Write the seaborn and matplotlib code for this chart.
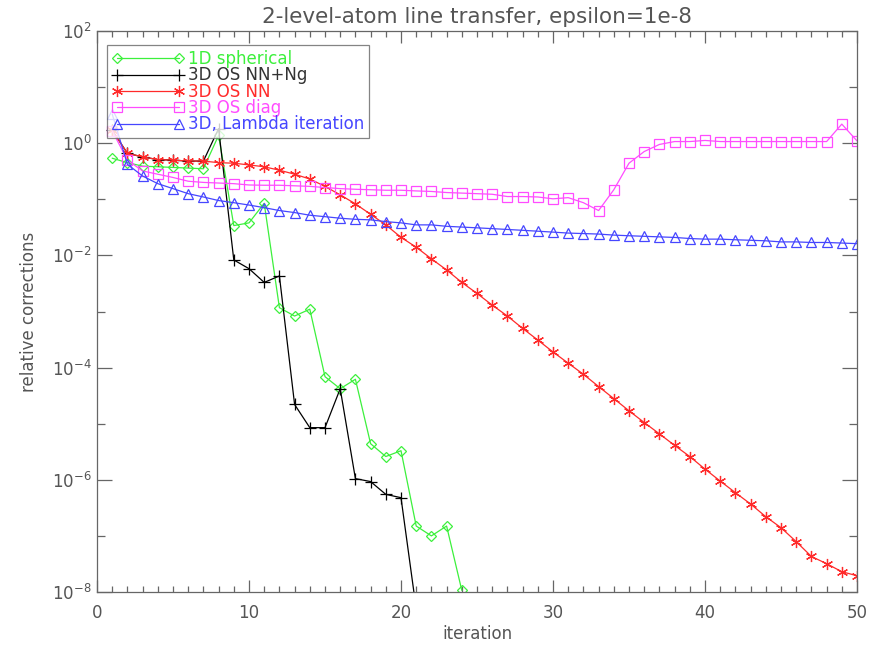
import numpy as np
import pandas as pd
import matplotlib
matplotlib.use("Agg")
import matplotlib.pyplot as plt
import seaborn as sns
from matplotlib.ticker import FixedLocator, FixedFormatter, MultipleLocator, NullFormatter

# values (relative corrections per iteration)
spherical_1d = [0.54, 0.45, 0.39, 0.38, 0.37, 0.36, 0.35, 1.38, 0.034, 0.038,
                0.085, 1.17e-3, 8.3e-4, 1.1e-3, 6.9e-5, 4.2e-5, 6.2e-5, 4.4e-6, 2.6e-6, 3.3e-6,
                1.5e-7, 1.0e-7, 1.5e-7, 1.07e-8]

os_nn_ng = [1.70, 0.66, 0.57, 0.51, 0.50, 0.48, 0.48, 1.82, 8.3e-3, 5.8e-3,
            3.3e-3, 4.3e-3, 2.2e-5, 8.5e-6, 8.5e-6, 4.2e-5, 1.05e-6, 9.3e-7, 5.5e-7, 4.8e-7,
            5e-9]

os_nn = [1.70, 0.66, 0.57, 0.51, 0.50, 0.48, 0.48, 0.45, 0.44, 0.41,
         0.38, 0.33, 0.28, 0.23, 0.17, 0.12, 0.083, 0.054, 0.035, 0.021,
         0.014, 8.7e-3, 5.5e-3, 3.3e-3, 2.1e-3, 1.3e-3, 8.3e-4, 5.0e-4, 3.1e-4, 1.9e-4,
         1.2e-4, 7.6e-5, 4.6e-5, 2.8e-5, 1.7e-5, 1.05e-5, 6.6e-6, 4.1e-6, 2.6e-6, 1.55e-6,
         9.5e-7, 5.9e-7, 3.7e-7, 2.2e-7, 1.4e-7, 7.9e-8, 4.3e-8, 3.2e-8, 2.3e-8, 1.95e-8]

os_diag = [1.66, 0.50, 0.32, 0.28, 0.245, 0.21, 0.20, 0.195, 0.19, 0.18,
           0.178, 0.178, 0.174, 0.17, 0.162, 0.155, 0.151, 0.148, 0.145, 0.145,
           0.141, 0.138, 0.132, 0.129, 0.126, 0.123, 0.112, 0.112, 0.11, 0.102,
           0.107, 0.087, 0.063, 0.148, 0.44, 0.71, 0.95, 1.07, 1.07, 1.12,
           1.07, 1.07, 1.07, 1.07, 1.07, 1.07, 1.07, 1.07, 2.19, 1.10]

lambda_iter = [3.3, 0.42, 0.26, 0.19, 0.155, 0.126, 0.11, 0.095, 0.087, 0.079,
               0.071, 0.063, 0.058, 0.052, 0.049, 0.046, 0.044, 0.043, 0.040, 0.038,
               0.035, 0.035, 0.033, 0.032, 0.031, 0.030, 0.029, 0.028, 0.027, 0.026,
               0.025, 0.0245, 0.024, 0.023, 0.0224, 0.0219, 0.0214, 0.0209, 0.020, 0.0195,
               0.0195, 0.019, 0.0186, 0.0182, 0.0174, 0.0174, 0.017, 0.017, 0.0166, 0.0162]

series_names = ["1D spherical", "3D OS NN+Ng", "3D OS NN", "3D OS diag", "3D, Lambda iteration"]
series_values = [spherical_1d, os_nn_ng, os_nn, os_diag, lambda_iter]
series_colors = ["#3cf03c", "#000000", "#ff2a2a", "#ff4cff", "#4646ff"]
series_markers = ["D", "+", (6, 2, 0), "s", "^"]
marker_sizes = [5.5, 9, 8, 7, 7.5]

ytick_vals = [1e-8, 1e-6, 1e-4, 1e-2, 1e0, 1e2]
ytick_labels = ["$10^{-8}$", "$10^{-6}$", "$10^{-4}$", "$10^{-2}$", "$10^{0}$", "$10^{2}$"]
yminor_vals = [1e-7, 1e-5, 1e-3, 1e-1, 1e1]

text_gray = "#555555"

sns.set_style("ticks")
plt.rcParams["font.family"] = ["DejaVu Sans"]

fig = plt.figure(figsize=(8.87, 6.54), dpi=100)
ax = fig.add_axes([97 / 887, 62 / 654, 760 / 887, 561 / 654])

for name, vals, col, mk, ms in zip(series_names, series_values, series_colors,
                                   series_markers, marker_sizes):
    df = pd.DataFrame({"iteration": np.arange(1, len(vals) + 1), "value": vals})
    sns.lineplot(data=df, x="iteration", y="value", ax=ax, color=col, label=name,
                 marker=mk, markersize=ms, markerfacecolor="none", markeredgecolor=col,
                 markeredgewidth=0.9, linewidth=0.9)

ax.set_yscale("log")
ax.set_xlim(0, 50)
ax.set_ylim(1e-8, 1e2)

ax.yaxis.set_major_locator(FixedLocator(ytick_vals))
ax.yaxis.set_major_formatter(FixedFormatter(ytick_labels))
ax.yaxis.set_minor_locator(FixedLocator(yminor_vals))
ax.yaxis.set_minor_formatter(NullFormatter())
ax.xaxis.set_major_locator(MultipleLocator(10))
ax.xaxis.set_minor_locator(MultipleLocator(1))

ax.tick_params(axis="both", which="both", direction="in", top=True, right=True,
               colors="#666666", labelcolor=text_gray, labelsize=12, width=0.9)
ax.tick_params(axis="x", which="major", length=8.5, pad=9)
ax.tick_params(axis="x", which="minor", length=4.3)
ax.tick_params(axis="y", which="major", length=11, pad=4)
ax.tick_params(axis="y", which="minor", length=6)

for sp in ax.spines.values():
    sp.set_color("#666666")
    sp.set_linewidth(0.9)

ax.set_title("2-level-atom line transfer, epsilon=1e-8", color=text_gray, fontsize=15.5, pad=6)
ax.set_xlabel("iteration", color=text_gray, fontsize=12, labelpad=2)
ax.set_ylabel("relative corrections", color=text_gray, fontsize=12, labelpad=10)

leg = ax.legend(loc="upper left", bbox_to_anchor=(0.013, 0.975), borderaxespad=0,
                numpoints=2, handlelength=4.3, handletextpad=0.25, labelspacing=-0.1,
                fontsize=12, frameon=True, fancybox=False, borderpad=0.3)
leg.get_frame().set_edgecolor("#666666")
leg.get_frame().set_linewidth(0.9)
for txt, col in zip(leg.get_texts(), series_colors):
    txt.set_color(col if col != "#000000" else "#333333")

fig.savefig("out.png", dpi=100)
